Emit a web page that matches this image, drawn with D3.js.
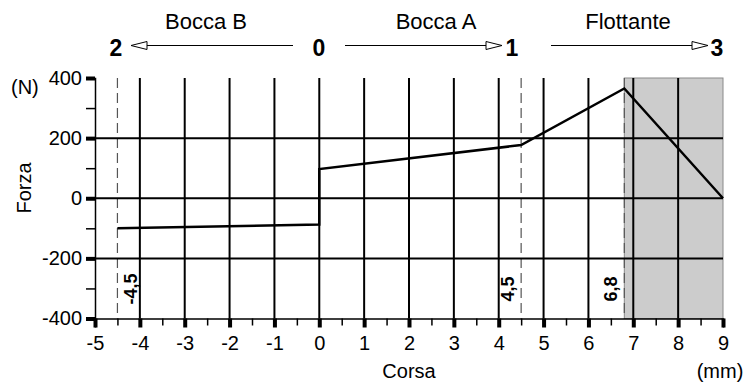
<!DOCTYPE html>
<html>
<head>
<meta charset="utf-8">
<script src="https://cdn.jsdelivr.net/npm/d3@7"></script>
<style>
  html, body { margin: 0; padding: 0; background: #fff; }
  svg { display: block; font-family: "Liberation Sans", Arial, sans-serif; }
</style>
</head>
<body>
<svg id="chart" width="751" height="383"></svg>
<script>
// ---- data ----
const strokeMm = [-4.5, 0, 0, 4.5, 6.8, 9];
const forceN   = [-100, -87, 97, 177, 365, 0];
const xTickValues = [-5, -4, -3, -2, -1, 0, 1, 2, 3, 4, 5, 6, 7, 8, 9];
const xMinorTicks = [-4.5, -3.5, -2.5, -1.5, -0.5, 0.5, 1.5, 2.5, 3.5, 4.5, 5.5, 6.5, 7.5, 8.5];
const yTickValues = [-400, -200, 0, 200, 400];
const yMinorTicks = [-300, -100, 100, 300];
const yGridValues = [-200, 0, 200];
const markerValues = [-4.5, 4.5, 6.8];
const markerLabels = ["-4,5", "4,5", "6,8"];
const floatRange = [6.8, 9];
const positionLabels = ["2", "0", "1", "3"];
const phaseLabels = ["Bocca B", "Bocca A", "Flottante"];

(function () {
// ---- layout ----
const svg = d3.select("#chart");
const x = d3.scaleLinear().domain([-5, 9]).range([95, 723]);
const y = d3.scaleLinear().domain([-400, 400]).range([318.5, 78]);
const pTop = y(400), pBot = y(-400), pLeft = x(-5), pRight = x(9);

// shaded floating zone
svg.append("rect")
  .attr("x", x(floatRange[0])).attr("y", pTop)
  .attr("width", x(floatRange[1]) - x(floatRange[0]))
  .attr("height", pBot - pTop)
  .attr("fill", "#cccccc").attr("stroke", "#8a8a8a").attr("stroke-width", 1);

// dashed markers
svg.append("g").selectAll("line").data(markerValues).join("line")
  .attr("x1", d => x(d)).attr("x2", d => x(d))
  .attr("y1", pTop).attr("y2", pBot)
  .attr("stroke", "#555").attr("stroke-width", 1.2)
  .attr("stroke-dasharray", "10,5");

// grid
svg.append("g").selectAll("line").data(xTickValues.filter(d => d > -5 && d < 9)).join("line")
  .attr("x1", d => x(d)).attr("x2", d => x(d))
  .attr("y1", pTop).attr("y2", pBot)
  .attr("stroke", "#000").attr("stroke-width", 2);
svg.append("g").selectAll("line").data(yGridValues).join("line")
  .attr("x1", pLeft).attr("x2", pRight)
  .attr("y1", d => y(d)).attr("y2", d => y(d))
  .attr("stroke", "#000").attr("stroke-width", 2);

// axes
const fmt = d => String(d);
const gx = svg.append("g").attr("transform", `translate(0,${pBot})`)
  .call(d3.axisBottom(x).tickValues(xTickValues).tickFormat(fmt).tickSize(9).tickPadding(8));
gx.select(".domain").attr("stroke", "#000").attr("stroke-width", 1.5);
gx.selectAll(".tick line").attr("stroke-width", 4);
gx.selectAll(".tick text").attr("font-size", 20).attr("font-family", "Liberation Sans, Arial, sans-serif").attr("fill", "#000");

const gxm = svg.append("g").attr("transform", `translate(0,${pBot})`)
  .call(d3.axisBottom(x).tickValues(xMinorTicks).tickFormat("").tickSize(7));
gxm.select(".domain").remove();
gxm.selectAll(".tick line").attr("stroke-width", 1.5);

const gy = svg.append("g").attr("transform", `translate(${pLeft},0)`)
  .call(d3.axisLeft(y).tickValues(yTickValues).tickFormat(fmt).tickSize(9).tickPadding(4));
gy.select(".domain").attr("stroke", "#000").attr("stroke-width", 1.5);
gy.selectAll(".tick line").attr("stroke-width", 4);
gy.selectAll(".tick text").attr("font-size", 20).attr("font-family", "Liberation Sans, Arial, sans-serif").attr("fill", "#000");

const gym = svg.append("g").attr("transform", `translate(${pLeft},0)`)
  .call(d3.axisLeft(y).tickValues(yMinorTicks).tickFormat("").tickSize(9));
gym.select(".domain").remove();
gym.selectAll(".tick line").attr("stroke-width", 1.5).attr("x2", -9).attr("x1", 1);

// data line
const line = d3.line().x((d, i) => x(strokeMm[i])).y(d => y(d));
svg.append("path").datum(forceN)
  .attr("d", line).attr("fill", "none")
  .attr("stroke", "#000").attr("stroke-width", 2.5).attr("stroke-linejoin", "miter");

// marker labels (rotated, bold)
svg.append("g").selectAll("text").data(markerValues).join("text")
  .attr("transform", (d, i) => {
    const bx = i === 0 ? x(d) + 20 : x(d) - 7;
    return `translate(${bx},289) rotate(-90)`;
  })
  .attr("text-anchor", "middle")
  .attr("font-size", 18).attr("font-weight", "bold")
  .text((d, i) => markerLabels[i]);

// axis titles
svg.append("text").attr("x", 11).attr("y", 94).attr("font-size", 20).text("(N)");
svg.append("text").attr("transform", "translate(31,188) rotate(-90)")
  .attr("text-anchor", "middle").attr("font-size", 20).text("Forza");
svg.append("text").attr("x", 409).attr("y", 378).attr("text-anchor", "middle").attr("font-size", 20).text("Corsa");
svg.append("text").attr("x", 720).attr("y", 378).attr("text-anchor", "middle").attr("font-size", 20).text("(mm)");

// header: positions, phases, arrows
const posX = [116, 319, 512, 717];
svg.append("g").selectAll("text").data(positionLabels).join("text")
  .attr("x", (d, i) => posX[i]).attr("y", 56)
  .attr("text-anchor", "middle").attr("font-size", 23).attr("font-weight", "bold")
  .text(d => d);
const phaseX = [206, 436, 628];
svg.append("g").selectAll("text").data(phaseLabels).join("text")
  .attr("x", (d, i) => phaseX[i]).attr("y", 29)
  .attr("text-anchor", "middle").attr("font-size", 22)
  .text(d => d);

const arrows = [[293, 131], [345, 502], [551, 708]];
const ay = 45.5;
arrows.forEach(([from, tip]) => {
  const dir = tip > from ? 1 : -1;
  const back = tip - dir * 16;
  svg.append("line").attr("x1", from).attr("x2", back).attr("y1", ay).attr("y2", ay)
    .attr("stroke", "#000").attr("stroke-width", 1.2);
  svg.append("path")
    .attr("d", `M${tip},${ay} L${back},${ay - 4} L${back},${ay + 4} Z`)
    .attr("fill", "#fff").attr("stroke", "#000").attr("stroke-width", 1);
});
})();
</script>
</body>
</html>
